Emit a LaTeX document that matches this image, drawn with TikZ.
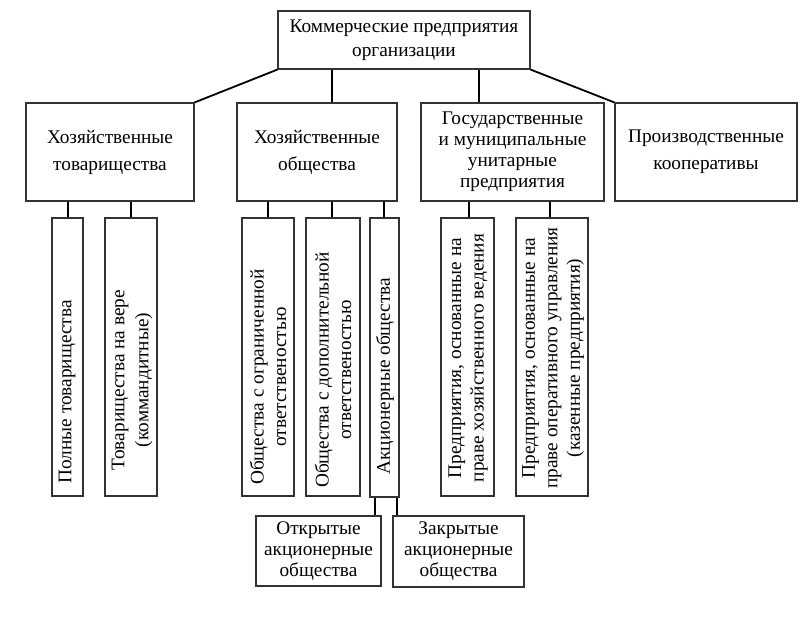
\documentclass[tikz,border=0pt]{standalone}
\usepackage{fontspec}
\setmainfont{Liberation Serif}
\begin{document}
\begin{tikzpicture}[x=1pt,y=-1pt,
  box/.style={draw=black!80, line width=1.1pt, inner sep=0pt, align=center},
  conn/.style={line width=1.8pt, black},
  lbl/.style={align=center, inner sep=0pt, font=\fontsize{19.3}{22.5}\selectfont},
  vlbl/.style={lbl, rotate=90}]
\useasboundingbox[fill=white] (0,0) rectangle (807,625);
% top
\node[box, minimum width=252pt, minimum height=58pt, font=\fontsize{19.3}{24.5}\selectfont] (top) at (404,40) {Коммерческие предприятия\\организации};
% second level
\node[box, minimum width=168pt, minimum height=98pt, font=\fontsize{19.3}{27}\selectfont] (ht) at (110,152) {Хозяйственные\\товарищества};
\node[box, minimum width=160pt, minimum height=98pt, font=\fontsize{19.3}{27}\selectfont] (ho) at (317,152) {Хозяйственные\\общества};
\node[box, minimum width=183pt, minimum height=98pt, font=\fontsize{19.3}{21}\selectfont] (gu) at (512.5,152) {Государственные\\и муниципальные\\унитарные\\предприятия};
\node[box, minimum width=182pt, minimum height=98pt, font=\fontsize{19.3}{27}\selectfont] (pk) at (706,152) {Производственные\\кооперативы};
% third level boxes
\node[box, minimum width=31pt, minimum height=278pt] (pt) at (67.5,357) {};
\node[box, minimum width=52pt, minimum height=278pt] (tv) at (131,357) {};
\node[box, minimum width=52pt, minimum height=278pt] (oo) at (268,357) {};
\node[box, minimum width=54pt, minimum height=278pt] (od) at (333,357) {};
\node[box, minimum width=29pt, minimum height=279pt] (ak) at (384.5,357.5) {};
\node[box, minimum width=53pt, minimum height=278pt] (px) at (467.5,357) {};
\node[box, minimum width=72pt, minimum height=278pt] (po) at (552,357) {};
% vertical labels
\node[vlbl] (ptl) at (67,392) {Полные товарищества};
\node[vlbl, font=\fontsize{19.3}{24}\selectfont] (tvl) at (132,380) {Товарищества на вере\\(коммандитные)};
\node[vlbl] (ool) at (268,377) {Общества с ограниченной\\ответственостью};
\node[vlbl] (odl) at (333,370) {Общества с дополнительной\\ответственостью};
\node[vlbl] (akl) at (385,376) {Акционерные общества};
\node[vlbl] (pxl) at (468,358) {Предприятия, основанные на\\праве хозяйственного ведения};
\node[vlbl] (pol) at (553,358) {Предприятия, основанные на\\праве оперативного управления\\(казенные предприятия)};
% bottom
\node[box, minimum width=125pt, minimum height=70pt, font=\fontsize{19.3}{21}\selectfont] (otk) at (318.5,551) {Открытые\\акционерные\\общества};
\node[box, minimum width=131pt, minimum height=71pt, font=\fontsize{19.3}{21}\selectfont] (zak) at (458.5,551.5) {Закрытые\\акционерные\\общества};
% connectors
\draw[conn] (top.south west) -- (ht.north east);
\draw[conn] (top.south east) -- (pk.north west);
\draw[conn] ([xshift=15pt]ho.north) -- ([xshift=15pt]ho.north |- top.south);
\draw[conn] ([xshift=-33.5pt]gu.north) -- ([xshift=-33.5pt]gu.north |- top.south);
\draw[conn] ([xshift=0.5pt]pt.north) -- ([xshift=0.5pt]pt.north |- ht.south);
\draw[conn] (tv.north) -- (tv.north |- ht.south);
\draw[conn] (oo.north) -- (oo.north |- ho.south);
\draw[conn] ([xshift=-1pt]od.north) -- ([xshift=-1pt]od.north |- ho.south);
\draw[conn] ([xshift=-0.5pt]ak.north) -- ([xshift=-0.5pt]ak.north |- ho.south);
\draw[conn] ([xshift=1.5pt]px.north) -- ([xshift=1.5pt]px.north |- gu.south);
\draw[conn] ([xshift=-2pt]po.north) -- ([xshift=-2pt]po.north |- gu.south);
\draw[conn] ([xshift=-9.5pt]ak.south) -- ([xshift=-9.5pt]ak.south |- otk.north);
\draw[conn] ([xshift=12.5pt]ak.south) -- ([xshift=12.5pt]ak.south |- zak.north);
\end{tikzpicture}
\end{document}
